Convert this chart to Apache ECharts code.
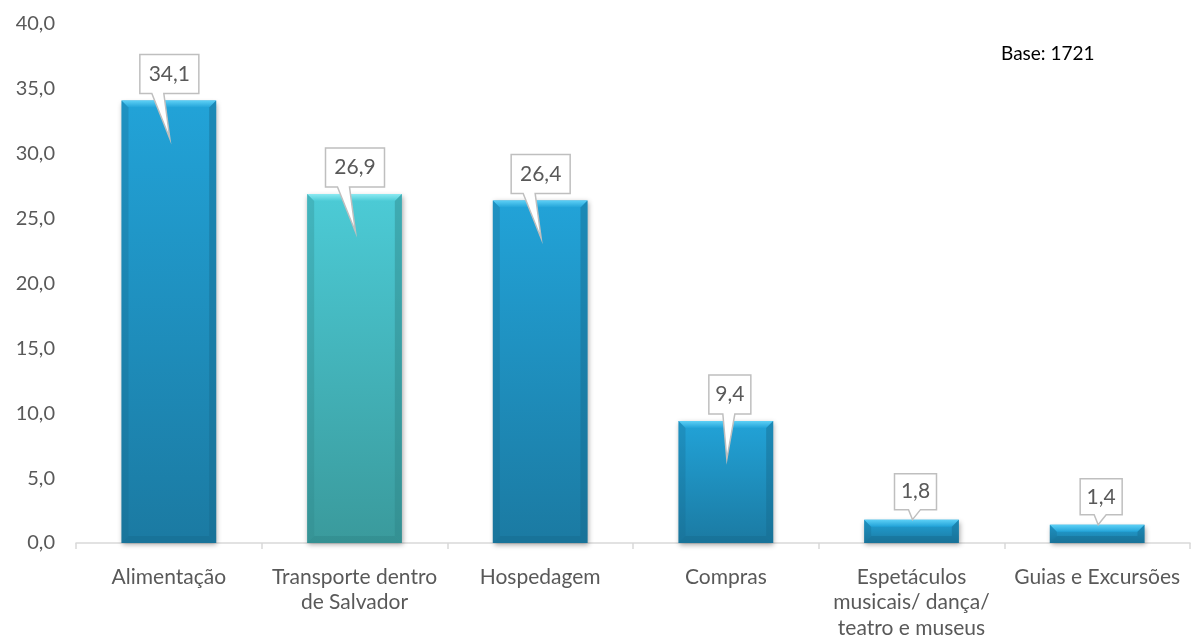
<!DOCTYPE html>
<html><head><meta charset="utf-8">
<script src="https://cdn.jsdelivr.net/npm/echarts@6/dist/echarts.min.js"></script>
<style>html,body{margin:0;padding:0;background:#fff}#c{width:1197px;height:641px}</style>
</head><body><div id="c"></div>
<script>
const categories = ['Alimentação', 'Transporte dentro\nde Salvador', 'Hospedagem', 'Compras', 'Espetáculos\nmusicais/ dança/\nteatro e museus', 'Guias e Excursões'];
const values = [34.1, 26.9, 26.4, 9.4, 1.8, 1.4];
const labels = ['34,1', '26,9', '26,4', '9,4', '1,8', '1,4'];
const baseNote = 'Base: 1721';

const FONT = 'Lato, "Open Sans", sans-serif';
const palettes = [
  {top:'#22a3d8', bot:'#1b7aa2', light:'#5dd0f6', dark:'#166a8e'},
  {top:'#4ccbd6', bot:'#3a9a9c', light:'#8ceaf2', dark:'#2f8488'}
];
function pal(i){ return i === 1 ? palettes[1] : palettes[0]; }

const chart = echarts.init(document.getElementById('c'));
chart.setOption({
  animation:false,
  grid:{left:76, right:7, top:24, bottom:98, containLabel:false},
  graphic:[{type:'text', left:1001, top:44, style:{text:baseNote, font:'19px '+FONT, fill:'#000'}}],
  xAxis:{type:'category', data:categories,
    axisLine:{lineStyle:{color:'#d9d9d9', width:1.5}},
    axisTick:{show:true, length:6, lineStyle:{color:'#d9d9d9', width:1.5}},
    axisLabel:{color:'#595959', fontSize:21, fontFamily:FONT, lineHeight:25.5, margin:21, interval:0}},
  yAxis:{type:'value', min:0, max:40, interval:5,
    axisLine:{show:false}, axisTick:{show:false}, splitLine:{show:false},
    axisLabel:{color:'#595959', fontSize:20, fontFamily:FONT, margin:21, formatter:v=>v.toFixed(1).replace('.',',')}},
  series:[
    {type:'bar', data:values.map((v,i)=>({value:v, itemStyle:{color:new echarts.graphic.LinearGradient(0,0,0,1,[{offset:0,color:pal(i).top},{offset:1,color:pal(i).bot}]), shadowColor:'rgba(0,0,0,0.35)', shadowBlur:5, shadowOffsetX:1, shadowOffsetY:2}})),
     barWidth:'51%', z:2},
    {type:'custom', z:3, data:values.map((v,i)=>[i,v]),
     renderItem:function(params, api){
       const i = api.value(0), v = api.value(1);
       const p = pal(i);
       const top = api.coord([i, v]);
       const bottom = api.coord([i, 0]);
       const bw = api.size([1,0])[0]*0.51;
       const x0 = top[0]-bw/2, x1 = top[0]+bw/2, yt = top[1], yb = bottom[1];
       const h = yb-yt;
       const b = Math.min(7, h/2);
       const children = [];
       children.push({type:'polygon', shape:{points:[[x0,yt],[x1,yt],[x1-b,yt+b],[x0+b,yt+b]]}, style:{fill:new echarts.graphic.LinearGradient(0,0,0,1,[{offset:0,color:p.light},{offset:1,color:p.top}])}});
       children.push({type:'polygon', shape:{points:[[x0,yt],[x0+b,yt+b],[x0+b,yb-b],[x0,yb]]}, style:{fill:p.dark, opacity:0.3}});
       children.push({type:'polygon', shape:{points:[[x1,yt],[x1-b,yt+b],[x1-b,yb-b],[x1,yb]]}, style:{fill:p.dark, opacity:0.45}});
       children.push({type:'polygon', shape:{points:[[x0,yb],[x0+b,yb-b],[x1-b,yb-b],[x1,yb]]}, style:{fill:p.dark, opacity:0.45}});
       const cx = top[0];
       const txt = labels[i];
       const w = txt.length > 3 ? 59 : 42;
       const bx0 = txt.length > 3 ? cx-29 : cx-17;
       const by1 = yt - (h > 60 ? 7 : 10), by0 = yt - 46;
       const tipY = h > 60 ? yt+38 : yt;
       const tipX = cx+1;
       const pa = txt.length > 3 ? bx0+12 : bx0+14;
       const pb = pa + 12;
       children.push({type:'polygon', z2:10, shape:{points:[[bx0,by0],[bx0+w,by0],[bx0+w,by1],[pb,by1],[tipX,tipY],[pa,by1],[bx0,by1]]},
         style:{fill:'#fff', stroke:'#bfbfbf', lineWidth:1.5}});
       children.push({type:'text', z2:11, style:{text:txt, x:bx0+w/2, y:(by0+by1)/2, align:'center', verticalAlign:'middle', font:'21px '+FONT, fill:'#595959'}});
       return {type:'group', children:children};
     }}
  ]
});
</script></body></html>
